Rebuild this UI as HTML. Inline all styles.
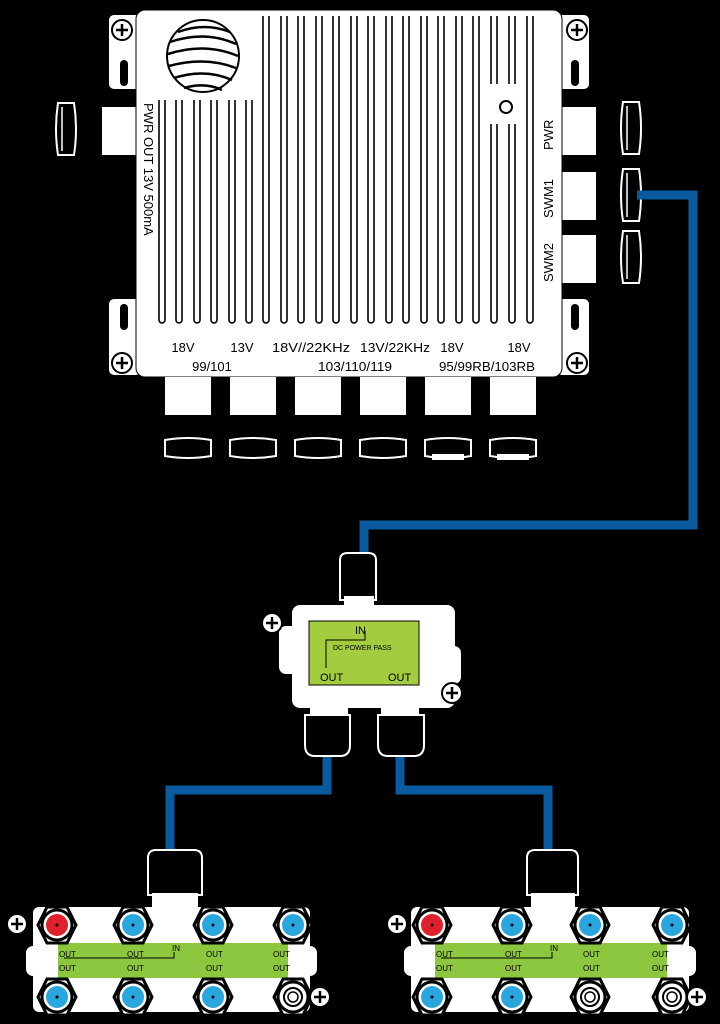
<!DOCTYPE html>
<html><head><style>
html,body{margin:0;padding:0;background:#000;}
svg{display:block;}
text{font-family:"Liberation Sans",sans-serif;}
</style></head><body>
<svg width="720" height="1024" viewBox="0 0 720 1024" xmlns="http://www.w3.org/2000/svg">
<defs>
  <g id="plus"><circle r="10" fill="#fff" stroke="#000" stroke-width="2"/><path d="M-6 0H6M0 -6V6" stroke="#000" stroke-width="2.5"/></g>
  <g id="port"><polygon points="-19,0 -10,-18 10,-18 19,0 10,18 -10,18" fill="#fff" stroke="#000" stroke-width="3"/><circle r="15" fill="#fff" stroke="#000" stroke-width="3"/></g>
  <g id="nutV"><path d="M-8 -26 Q-12 0 -8 26 H8 Q12 0 8 -26 Z" fill="#000" stroke="#fff" stroke-width="2"/><path d="M-4 -22 V22" stroke="#fff" stroke-width="1.5"/></g>
  <g id="nutH"><path d="M-23 -8 Q0 -12 23 -8 V8 Q0 12 -23 8 Z" fill="#000" stroke="#fff" stroke-width="2"/></g>
  <path id="fin" d="M-3 0 V-300 M3 0 V-300" />
</defs>
<rect width="720" height="1024" fill="#000"/>

<!-- ears -->
<g fill="#fff" stroke="#000" stroke-width="2">
  <rect x="108" y="14" width="34" height="76" rx="6"/>
  <rect x="108" y="298" width="34" height="78" rx="6"/>
  <rect x="556" y="14" width="34" height="76" rx="6"/>
  <rect x="556" y="298" width="34" height="78" rx="6"/>
</g>
<g fill="#000"><rect x="120" y="60" width="8" height="26" rx="4"/><rect x="120" y="304" width="8" height="26" rx="4"/><rect x="571" y="60" width="8" height="26" rx="4"/><rect x="571" y="304" width="8" height="26" rx="4"/></g>
<use href="#plus" x="122" y="30"/><use href="#plus" x="122" y="363"/><use href="#plus" x="577" y="30"/><use href="#plus" x="577" y="363"/>

<!-- side connectors -->
<rect x="102" y="107" width="36" height="48" fill="#fff"/>
<use href="#nutV" x="66" y="129"/>
<rect x="560" y="107" width="36" height="48" fill="#fff"/>
<rect x="560" y="172" width="36" height="48" fill="#fff"/>
<rect x="560" y="235" width="36" height="48" fill="#fff"/>
<use href="#nutV" x="631" y="128"/><use href="#nutV" x="631" y="195"/><use href="#nutV" x="631" y="257"/>

<!-- main box -->
<rect x="136" y="10" width="426" height="367" rx="9" fill="#fff" stroke="#000" stroke-width="1"/>
<g stroke="#000" stroke-width="1.6" fill="none">
  <path d="M159 100 V320 a3 3 0 0 0 6 0 V100"/><path d="M176 100 V320 a3 3 0 0 0 6 0 V100"/><path d="M194 100 V320 a3 3 0 0 0 6 0 V100"/><path d="M211 100 V320 a3 3 0 0 0 6 0 V100"/><path d="M229 100 V320 a3 3 0 0 0 6 0 V100"/><path d="M246 100 V320 a3 3 0 0 0 6 0 V100"/>
  <path d="M263 16 V320 a3 3 0 0 0 6 0 V16"/><path d="M281 16 V320 a3 3 0 0 0 6 0 V16"/><path d="M298 16 V320 a3 3 0 0 0 6 0 V16"/><path d="M316 16 V320 a3 3 0 0 0 6 0 V16"/><path d="M333 16 V320 a3 3 0 0 0 6 0 V16"/><path d="M351 16 V320 a3 3 0 0 0 6 0 V16"/><path d="M368 16 V320 a3 3 0 0 0 6 0 V16"/><path d="M386 16 V320 a3 3 0 0 0 6 0 V16"/><path d="M403 16 V320 a3 3 0 0 0 6 0 V16"/><path d="M421 16 V320 a3 3 0 0 0 6 0 V16"/><path d="M438 16 V320 a3 3 0 0 0 6 0 V16"/><path d="M456 16 V320 a3 3 0 0 0 6 0 V16"/><path d="M473 16 V320 a3 3 0 0 0 6 0 V16"/>
  <path d="M491 16 V84 M497 16 V84"/><path d="M491 124 V320 a3 3 0 0 0 6 0 V124"/>
  <path d="M509 16 V84 M515 16 V84"/><path d="M509 124 V320 a3 3 0 0 0 6 0 V124"/>
  <path d="M527 16 V320 a3 3 0 0 0 6 0 V16"/>
</g>
<circle cx="506" cy="107" r="6" fill="#fff" stroke="#000" stroke-width="2"/>
<!-- logo globe -->
<circle cx="203" cy="56" r="36" fill="#fff" stroke="#000" stroke-width="2"/>
<g stroke="#000" stroke-width="2.5" fill="none">
  <path d="M178 32 Q205 22 230 32"/><path d="M170 42 Q205 30 236 44"/><path d="M168 54 Q205 42 238 56"/><path d="M169 66 Q205 56 236 68"/><path d="M174 78 Q205 68 232 80"/><path d="M184 88 Q205 82 222 90"/>
</g>
<!-- text -->
<text transform="translate(144,103) rotate(90)" font-size="13" fill="#000">PWR OUT 13V 500mA</text>
<text transform="translate(553,150) rotate(-90)" font-size="13" fill="#000">PWR</text>
<text transform="translate(553,218) rotate(-90)" font-size="13" fill="#000">SWM1</text>
<text transform="translate(553,282) rotate(-90)" font-size="13" fill="#000">SWM2</text>
<g font-size="13" fill="#000" text-anchor="middle">
  <text x="183" y="352">18V</text><text x="242" y="352">13V</text><text x="311" y="352" textLength="78" lengthAdjust="spacingAndGlyphs">18V//22KHz</text><text x="395" y="352" textLength="70" lengthAdjust="spacingAndGlyphs">13V/22KHz</text><text x="452" y="352">18V</text><text x="519" y="352">18V</text>
  <text x="212" y="371">99/101</text><text x="355" y="371" textLength="74" lengthAdjust="spacingAndGlyphs">103/110/119</text><text x="487" y="371" textLength="96" lengthAdjust="spacingAndGlyphs">95/99RB/103RB</text>
</g>
<!-- bottom connectors -->
<g fill="#fff"><rect x="165" y="377" width="46" height="38"/><rect x="230" y="377" width="46" height="38"/><rect x="295" y="377" width="46" height="38"/><rect x="360" y="377" width="46" height="38"/><rect x="425" y="377" width="46" height="38"/><rect x="490" y="377" width="46" height="38"/></g>
<use href="#nutH" x="188" y="448"/><use href="#nutH" x="253" y="448"/><use href="#nutH" x="318" y="448"/><use href="#nutH" x="383" y="448"/><use href="#nutH" x="448" y="448"/><use href="#nutH" x="513" y="448"/>
<rect x="432" y="454" width="32" height="6" fill="#fff"/><rect x="497" y="454" width="32" height="6" fill="#fff"/>

<!-- cables -->
<g stroke="#0a5aa0" stroke-width="9" fill="none">
  <polyline points="637,195 693,195 693,525 364,525 364,560"/>
  <polyline points="327,750 327,790 170,790 170,855"/>
  <polyline points="400,750 400,790 548,790 548,855"/>
</g>

<!-- middle splitter -->
<path d="M340 560 Q340 553 348 553 H368 Q376 553 376 560 V600 H340 Z" fill="#000" stroke="#fff" stroke-width="2"/>
<rect x="344" y="596" width="30" height="12" fill="#fff"/>
<rect x="278" y="625" width="30" height="50" rx="8" fill="#fff" stroke="#000" stroke-width="2"/>
<rect x="440" y="645" width="22" height="40" rx="8" fill="#fff" stroke="#000" stroke-width="2"/>
<rect x="292" y="605" width="163" height="103" rx="8" fill="#fff"/>
<rect x="309" y="621" width="110" height="64" fill="#a3cc3f" stroke="#000" stroke-width="1"/>
<path d="M326 668 V640 H365 V631" stroke="#000" fill="none" stroke-width="1"/>
<text x="355" y="634" font-size="11" fill="#000">IN</text>
<text x="333" y="650" font-size="7" fill="#000">DC POWER PASS</text>
<text x="320" y="681" font-size="11" fill="#000">OUT</text>
<text x="388" y="681" font-size="11" fill="#000">OUT</text>
<use href="#plus" x="272" y="623"/><use href="#plus" x="452" y="693"/>
<rect x="310" y="708" width="38" height="10" fill="#fff"/><rect x="381" y="708" width="38" height="10" fill="#fff"/>
<path d="M305 715 H350 V745 Q350 756 340 756 H315 Q305 756 305 745 Z" fill="#000" stroke="#fff" stroke-width="2"/>
<path d="M378 715 H424 V745 Q424 756 414 756 H388 Q378 756 378 745 Z" fill="#000" stroke="#fff" stroke-width="2"/>

<!-- bottom-left splitter -->
<g>
<path d="M148 858 Q148 850 156 850 H194 Q202 850 202 858 V895 H148 Z" fill="#000" stroke="#fff" stroke-width="2"/>
<rect x="152" y="893" width="46" height="15" fill="#fff"/>
<rect x="25" y="945" width="25" height="32" rx="8" fill="#fff" stroke="#000" stroke-width="2"/>
<rect x="298" y="945" width="20" height="32" rx="8" fill="#fff" stroke="#000" stroke-width="2"/>
<rect x="33" y="907" width="277" height="105" rx="6" fill="#fff"/>
<rect x="58" y="943" width="230" height="35" fill="#8dc63f"/>
<path d="M64 958 H174 V952" stroke="#000" fill="none" stroke-width="1"/>
<g font-size="8" fill="#000"><text x="59" y="957">OUT</text><text x="127" y="957">OUT</text><text x="206" y="957">OUT</text><text x="273" y="957">OUT</text><text x="172" y="951">IN</text>
<text x="59" y="971">OUT</text><text x="127" y="971">OUT</text><text x="206" y="971">OUT</text><text x="273" y="971">OUT</text></g>
<use href="#port" x="57" y="925"/><circle cx="57" cy="925" r="11" fill="#e0202a"/>
<use href="#port" x="133" y="925"/><circle cx="133" cy="925" r="11" fill="#2aa6de"/>
<use href="#port" x="213" y="925"/><circle cx="213" cy="925" r="11" fill="#2aa6de"/>
<use href="#port" x="293" y="925"/><circle cx="293" cy="925" r="11" fill="#2aa6de"/>
<use href="#port" x="57" y="997"/><circle cx="57" cy="997" r="11" fill="#2aa6de"/>
<use href="#port" x="133" y="997"/><circle cx="133" cy="997" r="11" fill="#2aa6de"/>
<use href="#port" x="213" y="997"/><circle cx="213" cy="997" r="11" fill="#2aa6de"/>
<use href="#port" x="293" y="997"/><circle cx="293" cy="997" r="9" fill="#fff" stroke="#000" stroke-width="2"/><circle cx="293" cy="997" r="5" fill="#fff" stroke="#000" stroke-width="1.5"/>
<g fill="#000"><circle cx="57" cy="925" r="1.5"/><circle cx="133" cy="925" r="1.5"/><circle cx="213" cy="925" r="1.5"/><circle cx="293" cy="925" r="1.5"/><circle cx="57" cy="997" r="1.5"/><circle cx="133" cy="997" r="1.5"/><circle cx="213" cy="997" r="1.5"/></g>
<use href="#plus" x="17" y="924"/><use href="#plus" x="320" y="997"/>
</g>

<!-- bottom-right splitter -->
<g>
<path d="M527 858 Q527 850 535 850 H570 Q578 850 578 858 V895 H527 Z" fill="#000" stroke="#fff" stroke-width="2"/>
<rect x="531" y="893" width="44" height="15" fill="#fff"/>
<rect x="403" y="945" width="25" height="32" rx="8" fill="#fff" stroke="#000" stroke-width="2"/>
<rect x="677" y="945" width="20" height="32" rx="8" fill="#fff" stroke="#000" stroke-width="2"/>
<rect x="411" y="907" width="278" height="105" rx="6" fill="#fff"/>
<rect x="435" y="943" width="232" height="35" fill="#8dc63f"/>
<path d="M441 958 H552 V952" stroke="#000" fill="none" stroke-width="1"/>
<g font-size="8" fill="#000"><text x="436" y="957">OUT</text><text x="505" y="957">OUT</text><text x="583" y="957">OUT</text><text x="652" y="957">OUT</text><text x="550" y="951">IN</text>
<text x="436" y="971">OUT</text><text x="505" y="971">OUT</text><text x="583" y="971">OUT</text><text x="652" y="971">OUT</text></g>
<use href="#port" x="432" y="925"/><circle cx="432" cy="925" r="11" fill="#e0202a"/>
<use href="#port" x="512" y="925"/><circle cx="512" cy="925" r="11" fill="#2aa6de"/>
<use href="#port" x="590" y="925"/><circle cx="590" cy="925" r="11" fill="#2aa6de"/>
<use href="#port" x="672" y="925"/><circle cx="672" cy="925" r="11" fill="#2aa6de"/>
<use href="#port" x="432" y="997"/><circle cx="432" cy="997" r="11" fill="#2aa6de"/>
<use href="#port" x="512" y="997"/><circle cx="512" cy="997" r="11" fill="#2aa6de"/>
<use href="#port" x="590" y="997"/><circle cx="590" cy="997" r="9" fill="#fff" stroke="#000" stroke-width="2"/><circle cx="590" cy="997" r="5" fill="#fff" stroke="#000" stroke-width="1.5"/>
<use href="#port" x="672" y="997"/><circle cx="672" cy="997" r="9" fill="#fff" stroke="#000" stroke-width="2"/><circle cx="672" cy="997" r="5" fill="#fff" stroke="#000" stroke-width="1.5"/>
<g fill="#000"><circle cx="432" cy="925" r="1.5"/><circle cx="512" cy="925" r="1.5"/><circle cx="590" cy="925" r="1.5"/><circle cx="672" cy="925" r="1.5"/><circle cx="432" cy="997" r="1.5"/><circle cx="512" cy="997" r="1.5"/></g>
<use href="#plus" x="397" y="924"/><use href="#plus" x="697" y="997"/>
</g>
</svg>
</body></html>
